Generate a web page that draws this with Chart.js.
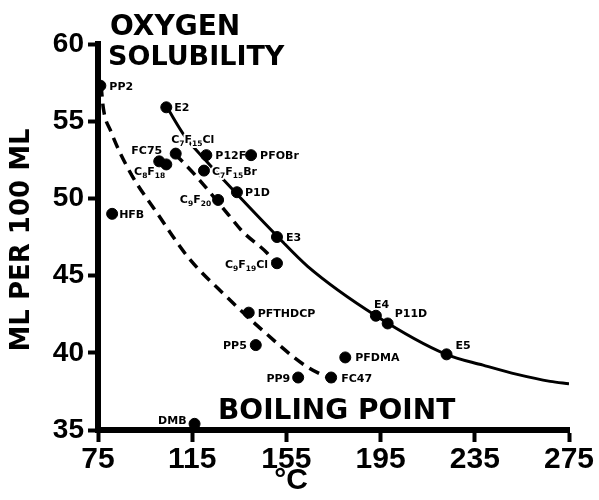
<!DOCTYPE html>
<html>
<head>
<meta charset="utf-8">
<script src="https://cdn.jsdelivr.net/npm/chart.js@4.4.0/dist/chart.umd.min.js"></script>
<style>
  html, body { margin: 0; padding: 0; background: #fff; }
  #grafico { display: block; }
</style>
</head>
<body>
<canvas id="grafico" width="599" height="500"></canvas>
<script>
// Compostos (nome, ponto de ebulição em °C, solubilidade de O2 em ml/100 ml)
// {n} = subscrito
const compostos = ['PP2', 'E2', 'C{7}F{15}Cl', 'FC75', 'C{8}F{18}', 'P12F', 'PFOBr', 'C{7}F{15}Br',
  'P1D', 'C{9}F{20}', 'E3', 'C{9}F{19}Cl', 'HFB', 'PFTHDCP', 'PP5', 'PFDMA', 'PP9', 'FC47',
  'DMB', 'E4', 'P11D', 'E5'];
const pontoEbulicao = [76, 104, 108, 101, 104, 121, 140, 120, 134, 126, 151, 151, 81, 139, 142,
  180, 160, 174, 116, 193, 198, 223];
const solubilidade = [57.3, 55.9, 52.9, 52.4, 52.2, 52.8, 52.8, 51.8, 50.4, 49.9, 47.5, 45.8, 49.0,
  42.6, 40.5, 39.7, 38.4, 38.4, 35.4, 42.4, 41.9, 39.9];

// Curva contínua
const curvaSolidaX = [104.3, 112, 120.5, 128, 151.4, 164, 193, 222.8, 238.5, 253, 267, 275];
const curvaSolidaY = [55.9, 54.0, 52.5, 51.25, 47.5, 45.6, 42.4, 39.9, 39.2, 38.6, 38.15, 38.0];

// Curva tracejada longa (PP2 -> FC47)
const curvaTracoX = [76.3, 77.3, 80.3, 88.6, 100.1, 113.2, 129.8, 143.8, 163.7, 177];
const curvaTracoY = [57.3, 55.8, 54.4, 51.7, 49.05, 46.2, 43.6, 41.6, 39.1, 38.1];

// Curva tracejada curta (C7F15Cl -> C9F19Cl)
const curvaCurtaX = [107.7, 116.2, 129.8, 136.6, 146.8, 150.6];
const curvaCurtaY = [52.88, 51.52, 49.05, 47.82, 46.46, 45.75];

const ticksX = [75, 115, 155, 195, 235, 275];
const ticksY = [35, 40, 45, 50, 55, 60];

// Posição dos rótulos em relação ao ponto: [dx, dy, alinhamento]
const posRotulos = [
  [9, 0, 'left'], [8, 0, 'left'], [17, -15, 'center'], [3, -11, 'right'], [-1, 7, 'right'],
  [9, 0, 'left'], [9, 0, 'left'], [8, 0, 'left'], [8, 0, 'left'], [-7, -1, 'right'],
  [9, 0, 'left'], [-9, 1, 'right'], [7, 0, 'left'], [9, 0, 'left'], [-9, 0, 'right'],
  [10, 0, 'left'], [-8, 0, 'right'], [10, 0, 'left'], [-8, -4, 'right'], [-2, -12, 'left'],
  [7, -10, 'left'], [9, -9, 'left']
];

function pares(xs, ys) {
  return xs.map((x, i) => ({ x: x, y: ys[i] }));
}

// separa "C{7}F{15}Cl" em pedaços normais e subscritos
function partes(txt) {
  const out = [];
  const re = /([^{]+)|\{([^}]*)\}/g;
  let m;
  while ((m = re.exec(txt)) !== null) {
    if (m[1]) out.push({ t: m[1], sub: false });
    else out.push({ t: m[2], sub: true });
  }
  return out;
}

const fonteRotulo = 'bold 11px "DejaVu Sans"';
const fonteSub = 'bold 7.5px "DejaVu Sans"';

function desenhaRotulo(ctx, txt, x, y, align) {
  const pedacos = partes(txt);
  let largura = 0;
  pedacos.forEach(p => {
    ctx.font = p.sub ? fonteSub : fonteRotulo;
    p.w = ctx.measureText(p.t).width;
    largura += p.w;
  });
  let cx = x;
  if (align === 'right') cx = x - largura;
  if (align === 'center') cx = x - largura / 2;
  const base = y + 4;
  // primeiro o halo branco (apaga as linhas sob o texto), depois o texto
  ['halo', 'texto'].forEach(passo => {
    let px = cx;
    pedacos.forEach(p => {
      ctx.font = p.sub ? fonteSub : fonteRotulo;
      const py = p.sub ? base + 3 : base;
      if (passo === 'halo') {
        ctx.strokeStyle = '#fff';
        ctx.lineWidth = 4;
        ctx.lineJoin = 'round';
        ctx.strokeText(p.t, px, py);
      } else {
        ctx.fillStyle = '#000';
        ctx.fillText(p.t, px, py);
      }
      px += p.w;
    });
  });
}

const rotulosPlugin = {
  id: 'rotulos',
  afterDatasetDraw(chart, args) {
    // datasets são desenhados do último para o primeiro: após as curvas, antes dos pontos
    if (args.index !== 1) return;
    const ctx = chart.ctx;
    const meta = chart.getDatasetMeta(0);
    ctx.save();
    ctx.textAlign = 'left';
    ctx.textBaseline = 'alphabetic';
    meta.data.forEach((pt, i) => {
      const [dx, dy, al] = posRotulos[i];
      desenhaRotulo(ctx, compostos[i], pt.x + dx, pt.y + dy, al);
    });
    ctx.restore();
  },
  afterDraw(chart) {
    const ctx = chart.ctx;
    const area = chart.chartArea;
    ctx.save();
    ctx.fillStyle = '#000';
    ctx.textAlign = 'left';
    ctx.textBaseline = 'alphabetic';
    ctx.font = 'bold 28px "DejaVu Sans"';
    ctx.fillText('OXYGEN', area.left + 12, 35);
    ctx.font = 'bold 27px "DejaVu Sans"';
    ctx.fillText('SOLUBILITY', area.left + 10, 65);
    ctx.font = 'bold 28px "DejaVu Sans"';
    ctx.fillText('BOILING POINT', area.left + 120, area.bottom - 11);

    // títulos dos eixos
    ctx.textAlign = 'center';
    ctx.font = 'bold 30px "Liberation Sans"';
    ctx.fillText('°C', 291, 489);
    ctx.translate(29, 240);
    ctx.rotate(-Math.PI / 2);
    ctx.font = 'bold 26px "DejaVu Sans"';
    ctx.fillText('ML PER 100 ML', 0, 0);
    ctx.restore();
  }
};

const ctx = document.getElementById('grafico').getContext('2d');
new Chart(ctx, {
  type: 'scatter',
  data: {
    datasets: [
      {
        label: 'Compostos',
        data: pares(pontoEbulicao, solubilidade),
        backgroundColor: '#000',
        borderColor: '#000',
        pointRadius: 5.5,
        showLine: false
      },
      {
        label: 'Curva tracejada curta',
        data: pares(curvaCurtaX, curvaCurtaY),
        showLine: true,
        borderColor: '#000',
        borderWidth: 3.5,
        borderDash: [11, 7],
        pointRadius: 0,
        cubicInterpolationMode: 'monotone'
      },
      {
        label: 'Curva tracejada',
        data: pares(curvaTracoX, curvaTracoY),
        showLine: true,
        borderColor: '#000',
        borderWidth: 3.5,
        borderDash: [11, 7],
        pointRadius: 0,
        cubicInterpolationMode: 'monotone'
      },
      {
        label: 'Curva',
        data: pares(curvaSolidaX, curvaSolidaY),
        showLine: true,
        borderColor: '#000',
        borderWidth: 3,
        pointRadius: 0,
        cubicInterpolationMode: 'monotone'
      }
    ]
  },
  options: {
    responsive: false,
    animation: false,
    devicePixelRatio: 1,
    layout: { padding: { top: 44, right: 30, left: 0, bottom: 0 } },
    plugins: {
      legend: { display: false },
      tooltip: { enabled: false }
    },
    scales: {
      x: {
        type: 'linear',
        min: ticksX[0],
        max: ticksX[ticksX.length - 1],
        afterBuildTicks: s => { s.ticks = ticksX.map(v => ({ value: v })); },
        afterFit: s => { s.height = 70; },
        ticks: {
          color: '#000',
          padding: 0,
          font: { family: 'Liberation Sans', weight: 'bold', size: 30 }
        },
        grid: { drawOnChartArea: false, color: '#000', tickLength: 12, tickWidth: 4 },
        border: { color: '#000', width: 6 }
      },
      y: {
        type: 'linear',
        min: ticksY[0],
        max: ticksY[ticksY.length - 1],
        afterBuildTicks: s => { s.ticks = ticksY.map(v => ({ value: v })); },
        afterFit: s => { s.width = 98; },
        ticks: {
          color: '#000',
          padding: 4,
          font: { family: 'Liberation Sans', weight: 'bold', size: 28 }
        },
        grid: { drawOnChartArea: false, color: '#000', tickLength: 10, tickWidth: 4 },
        border: { color: '#000', width: 6 }
      }
    }
  },
  plugins: [rotulosPlugin]
});
</script>
</body>
</html>
